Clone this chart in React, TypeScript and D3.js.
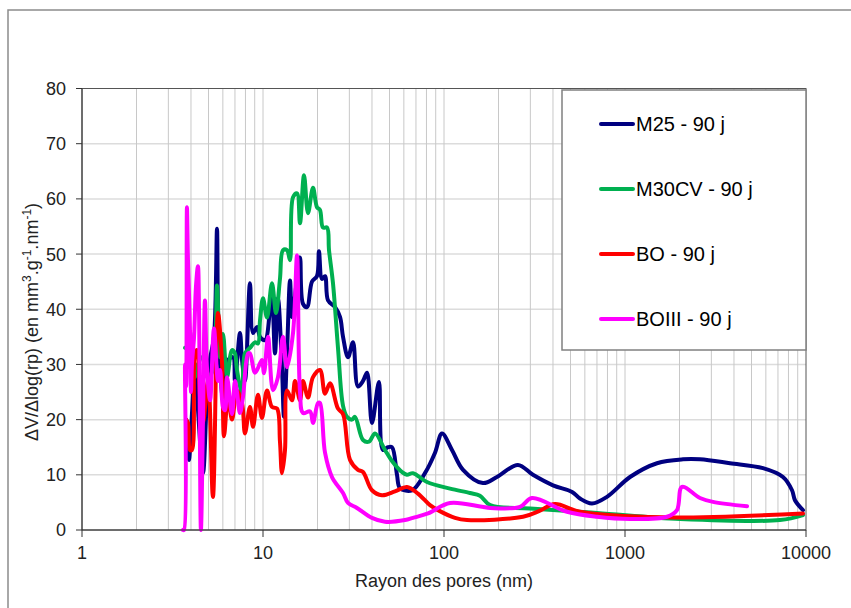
import * as d3 from "d3";

// pore radius (nm) and dV/dlog(rp) values
const m25R = [3.76, 3.85, 3.9, 4.05, 4.21, 4.37, 4.66, 4.9, 5.1, 5.36, 5.57, 5.64, 5.79, 6.01, 6.41, 6.83, 7.0, 7.46, 7.66, 7.95, 8.47, 8.81, 9.26, 9.63, 10.26, 10.93, 11.21, 11.65, 12.1, 12.73, 13.06, 13.57, 14.1, 14.46, 15.22, 16.01, 16.63, 17.5, 18.65, 19.87, 20.38, 21.17, 22.01, 22.87, 24.98, 26.63, 27.68, 29.49, 31.42, 33.47, 35.69, 37.56, 40.0, 43.7, 46.0, 49.0, 51.6, 55.0, 57.1, 66.6, 78.5, 89.2, 97.5, 110.7, 127.4, 164, 196, 256, 310, 400, 510, 564, 657, 795, 1066, 1502, 2092, 2596, 3802, 5787, 7460, 8370, 8690, 9625];
const m25V = [20, 15, 12.7, 21, 30, 22, 10.3, 24, 31, 35, 54.6, 40, 30, 24, 30.8, 31.3, 27, 35.7, 30.8, 27, 44.7, 35.7, 36.8, 35, 34.4, 40, 42.9, 32, 42, 29.5, 20.5, 32, 45.2, 38.6, 44, 49.4, 41, 40.4, 45, 46, 50.5, 45.5, 46, 41.6, 40.4, 38.6, 35, 31.3, 34, 26, 27, 28.5, 19.4, 26.8, 14.5, 15, 15, 10, 7.6, 7.2, 10.3, 14, 17.5, 14.5, 10.9, 8.5, 9.6, 11.8, 10, 8.1, 6.9, 5.7, 4.8, 6, 9.6, 12.1, 12.8, 12.8, 12.1, 11.2, 9.6, 7.2, 5.4, 3.6];

const m30R = [3.71, 3.8, 3.95, 4.1, 4.21, 4.37, 4.6, 4.78, 4.97, 5.29, 5.57, 5.79, 6.01, 6.33, 6.74, 7.0, 7.18, 7.66, 7.95, 8.47, 9.03, 9.38, 9.63, 10.0, 10.52, 11.21, 11.8, 12.41, 12.9, 13.57, 14.1, 14.65, 15.42, 16.01, 16.85, 17.73, 18.89, 19.87, 20.64, 21.45, 22.58, 23.16, 24.36, 25.96, 27.68, 29.12, 31.02, 32.23, 35.69, 38.5, 41.6, 47.2, 51.6, 58.6, 62.4, 67.4, 80.5, 108, 139, 158, 180, 299, 700, 2014, 7180, 9625];
const m30V = [33, 33, 36, 28.4, 27.7, 30, 31.3, 30.8, 27.7, 29, 44.3, 31.3, 35.5, 27.7, 32.6, 32, 29, 24.8, 32, 33, 34, 33.8, 38, 42, 38.5, 44.7, 39.3, 45.5, 50.7, 50.7, 48.9, 60.3, 61, 55.6, 64.3, 57.4, 62, 58.5, 58, 54.8, 54.8, 50.7, 44.7, 33, 22.5, 20.5, 20, 20.5, 16.3, 16, 17.5, 14.5, 12.5, 10.5, 10, 10.3, 8.7, 7.5, 6.7, 6.2, 4.5, 3.9, 3.1, 2, 1.8, 2.7];

const boR = [3.76, 3.85, 3.95, 4.05, 4.21, 4.32, 4.49, 4.66, 4.97, 5.29, 5.64, 5.94, 6.09, 6.41, 6.74, 7.18, 7.66, 7.95, 8.47, 8.81, 9.38, 9.87, 10.52, 11.21, 11.95, 12.41, 12.73, 13.23, 13.57, 14.46, 15.03, 16.01, 16.63, 17.73, 18.89, 20.64, 22.01, 23.46, 25.96, 27.68, 30.25, 33.47, 35.69, 40.0, 45.4, 53.6, 62.4, 71.8, 83.7, 92.6, 115, 134, 273, 339, 410, 564, 1622, 9625];
const boV = [20, 19.4, 14.5, 14.5, 32, 32.6, 24, 19.4, 27, 6, 39.3, 30.2, 17, 24, 20, 25.3, 23, 17.5, 22.3, 18.7, 24.5, 20.3, 25.3, 22.3, 22, 16, 10.3, 14.5, 25.3, 23.5, 27, 23.5, 27, 24, 27.7, 29, 24.7, 26.6, 22, 21, 12.7, 10.9, 10.5, 7.2, 6.3, 7, 7.8, 6.6, 4.5, 3.6, 2.2, 1.8, 2.4, 3.5, 4.7, 3.3, 2.3, 3];

const bo3R = [3.61, 3.66, 3.71, 3.76, 3.8, 3.85, 3.9, 3.95, 4.0, 4.05, 4.16, 4.26, 4.37, 4.43, 4.54, 4.66, 4.78, 4.9, 5.1, 5.36, 5.64, 5.79, 6.01, 6.17, 6.33, 6.74, 7.0, 7.18, 7.46, 7.75, 8.27, 8.47, 9.03, 9.63, 9.87, 10.13, 10.66, 11.36, 12.1, 12.9, 13.57, 14.65, 15.42, 16.01, 16.63, 18.19, 18.89, 20.13, 20.64, 22.01, 24.05, 27.68, 29.49, 33.06, 40.0, 47.2, 60.9, 67.4, 81.6, 108, 180, 263, 306, 478, 700, 1066, 1706, 1937, 2065, 2596, 3062, 4723];
const bo3V = [0, 0, 30, 26, 58.5, 49, 43, 36, 25, 30, 35, 44, 47.8, 40, 0, 20, 41.6, 29.5, 23.5, 36.5, 27, 29, 22.3, 21.7, 27.7, 21, 27, 25, 21.2, 24, 32, 32, 28.5, 30.2, 30.8, 28.4, 35, 25.3, 27.7, 35, 29.5, 35.7, 49.8, 25, 21.2, 21.5, 19.4, 23, 23, 14, 9.6, 6.7, 4.9, 4, 2.2, 1.5, 1.8, 2.2, 3, 4.9, 4, 4.2, 5.8, 3.3, 2.4, 2, 2.4, 3.6, 7.8, 5.8, 5.1, 4.3];

const seriesNames = ["M25 - 90 j", "M30CV - 90 j", "BO - 90 j", "BOIII - 90 j"];
const seriesColors = ["#000080", "#00B050", "#FF0000", "#FF00FF"];
const xTicks = [1, 10, 100, 1000, 10000];
const yTicks = [0, 10, 20, 30, 40, 50, 60, 70, 80];

export default function App() {
  const left = 82, right = 806, top = 88.5, bottom = 530;
  const x = d3.scaleLog().domain([1, 10000]).range([left, right]);
  const y = d3.scaleLinear().domain([0, 80]).range([bottom, top]);

  const series = [
    [m25R, m25V],
    [m30R, m30V],
    [boR, boV],
    [bo3R, bo3V],
  ];

  const line = d3
    .line<number[]>()
    .x((d) => x(d[0]))
    .y((d) => y(d[1]))
    .curve(d3.curveCatmullRom.alpha(0.5));

  const minor: number[] = [];
  for (let p = 1; p < 10000; p *= 10) {
    for (let k = 2; k <= 9; k++) minor.push(p * k);
  }

  const font = "'Liberation Sans', Arial, sans-serif";
  const legX = 562, legY = 90, legW = 244, legH = 260;

  return (
    <svg width={851} height={608} style={{ position: "absolute", left: 0, top: 0, background: "#fff" }} fontFamily={font}>
      <rect x={8} y={10} width={900} height={700} fill="#fff" stroke="#8c8c8c" strokeWidth={1.5} />

      {/* grid */}
      {yTicks.slice(1, -1).map((t) => (
        <line key={"h" + t} x1={left} x2={right} y1={y(t)} y2={y(t)} stroke="#dcdcdc" strokeWidth={1.5} />
      ))}
      {minor.concat(xTicks.slice(1, -1)).map((t) => (
        <line key={"v" + t} x1={x(t)} x2={x(t)} y1={top} y2={bottom} stroke="#c8c8c8" strokeWidth={1} />
      ))}

      {/* plot frame */}
      <rect x={left} y={top} width={right - left} height={bottom - top} fill="none" stroke="#555" strokeWidth={1} />

      {/* series */}
      {series.map(([rs, vs], i) => (
        <path
          key={i}
          d={line(rs.map((r, j) => [r, vs[j]])) ?? ""}
          fill="none"
          stroke={seriesColors[i]}
          strokeWidth={4}
          strokeLinejoin="round"
          strokeLinecap="round"
        />
      ))}

      {/* axes */}
      <line x1={left} x2={left} y1={top} y2={bottom} stroke="#333" />
      <line x1={left} x2={right} y1={bottom} y2={bottom} stroke="#333" />
      {yTicks.map((t) => (
        <g key={"yt" + t}>
          <line x1={left - 6} x2={left} y1={y(t)} y2={y(t)} stroke="#333" />
          <text x={66} y={y(t)} dy="0.36em" textAnchor="end" fontSize={18} fill="#222">
            {t}
          </text>
        </g>
      ))}
      {xTicks.map((t) => (
        <g key={"xt" + t}>
          <line x1={x(t)} x2={x(t)} y1={bottom} y2={bottom + 7} stroke="#333" />
          <text x={x(t)} y={559} textAnchor="middle" fontSize={18} fill="#222">
            {t}
          </text>
        </g>
      ))}
      <text x={(left + right) / 2} y={587} textAnchor="middle" fontSize={18} fill="#222">
        Rayon des pores (nm)
      </text>
      <text transform="translate(38,322) rotate(-90)" textAnchor="middle" fontSize={18} fill="#222">
        ΔV/Δlog(rp) (en mm<tspan dy="-7" fontSize={12}>3</tspan>
        <tspan dy="7">.g</tspan>
        <tspan dy="-7" fontSize={12}>-1</tspan>
        <tspan dy="7">.nm</tspan>
        <tspan dy="-7" fontSize={12}>-1</tspan>
        <tspan dy="7">)</tspan>
      </text>

      {/* legend */}
      <rect x={legX} y={legY} width={legW} height={legH} fill="#fff" stroke="#808080" strokeWidth={1.5} />
      {seriesNames.map((n, i) => {
        const cy = legY + 34 + i * 65;
        return (
          <g key={n}>
            <line x1={601} x2={633} y1={cy} y2={cy} stroke={seriesColors[i]} strokeWidth={4} strokeLinecap="round" />
            <text x={636} y={cy} dy="0.36em" fontSize={20} fill="#000">
              {n}
            </text>
          </g>
        );
      })}
    </svg>
  );
}
